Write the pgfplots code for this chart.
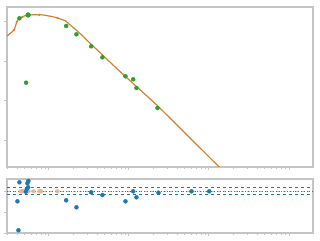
\documentclass[border=0pt]{standalone}
\usepackage{pgfplots}
\pgfplotsset{compat=1.18}
\definecolor{mplblue}{HTML}{1F77B4}
\definecolor{mplorange}{HTML}{D97F2E}
\definecolor{mplgreen}{HTML}{2CA02C}
\definecolor{framegray}{HTML}{C4C4C4}
\begin{document}
\begin{tikzpicture}
\useasboundingbox (0pt,0pt) rectangle (320pt,240pt);
% top panel
\begin{axis}[scale only axis, xmode=log, xmin=0.3, xmax=2000,
  axis line style={framegray, line width=1.4pt},
  tick style={framegray, line width=0.8pt},
  tick align=outside, major tick length=3pt, minor tick length=1.8pt,
  xtick pos=bottom, ytick pos=left,
  xticklabels={}, yticklabels={},
  at={(7pt,73pt)}, anchor=south west,
  width=306pt, height=160pt, ymin=0, ymax=160,
  ytick={27,66.3,105.3,145.3}]
\addplot[mplorange, line width=1.2pt, smooth, tension=0.25] coordinates {
(0.3,131) (0.368,137) (0.398,145.3) (0.429,148.7) (0.506,151.3)
(0.642,152.3) (0.856,152) (1.199,149.7) (1.599,146.3) (1.846,142)
(2.46,133.5) (3.283,123.7) (7.785,95.3) (23.44,60.3) (134.5,0) (200,-13)};
\addplot[only marks, mark=*, mark size=0.9pt, mplorange] coordinates {
(0.368,137) (0.398,145.3) (0.468,150) (0.556,151.8) (0.763,152.2) (1.281,149)};
\addplot[only marks, mark=*, mark size=2pt, mplgreen] coordinates {
(0.429,148.7) (0.551,152) (0.520,84.3) (1.645,141) (2.213,132.7)
(3.378,120.7) (4.677,109.7) (9.07,90.7) (11.32,87.7) (12.44,79) (22.79,59)};
\addplot[only marks, mark=*, mark size=2.4pt, mplgreen] coordinates {(0.551,152)};
\end{axis}
% bottom panel
\begin{axis}[scale only axis, xmode=log, xmin=0.3, xmax=2000,
  axis line style={framegray, line width=1.4pt},
  tick style={framegray, line width=0.8pt},
  tick align=outside, major tick length=3pt, minor tick length=1.8pt,
  xtick pos=bottom, ytick pos=left,
  xticklabels={}, yticklabels={},
  at={(7pt,7pt)}, anchor=south west,
  width=306pt, height=54pt, ymin=0, ymax=54,
  ytick={0,21,42}]
\addplot[mplblue, dashed, line width=0.8pt] coordinates {(0.3,45.7) (2000,45.7)};
\addplot[mplblue, dashed, line width=0.8pt] coordinates {(0.3,38.7) (2000,38.7)};
\addplot[mplblue!40, dashed, line width=0.8pt] coordinates {(0.3,41.7) (2000,41.7)};
\addplot[mplblue, dotted, line width=0.8pt] coordinates {(0.3,41.7) (2000,41.7)};
\addplot[only marks, mark=*, mark size=2pt, mplorange!60, opacity=0.8] coordinates {
(0.447,41.7) (0.468,41.7) (0.491,41.7) (0.516,41.7) (0.556,41.7)
(0.642,41.7) (0.763,41.7) (0.801,41.7) (1.281,41.7)};
\addplot[only marks, mark=*, mark size=2pt, mplblue] coordinates {
(0.429,50.7) (0.556,52) (0.540,49.7) (0.551,45.7) (0.531,44) (0.516,41.3)
(0.405,31.7) (0.417,2.7) (1.645,32.7) (2.213,25.7) (3.378,40.7) (4.677,38)
(9.07,31.7) (11.32,41.7) (12.44,35.7) (23.44,40.3) (60.6,41.7) (100.9,41.7)};
\end{axis}
\end{tikzpicture}
\end{document}
